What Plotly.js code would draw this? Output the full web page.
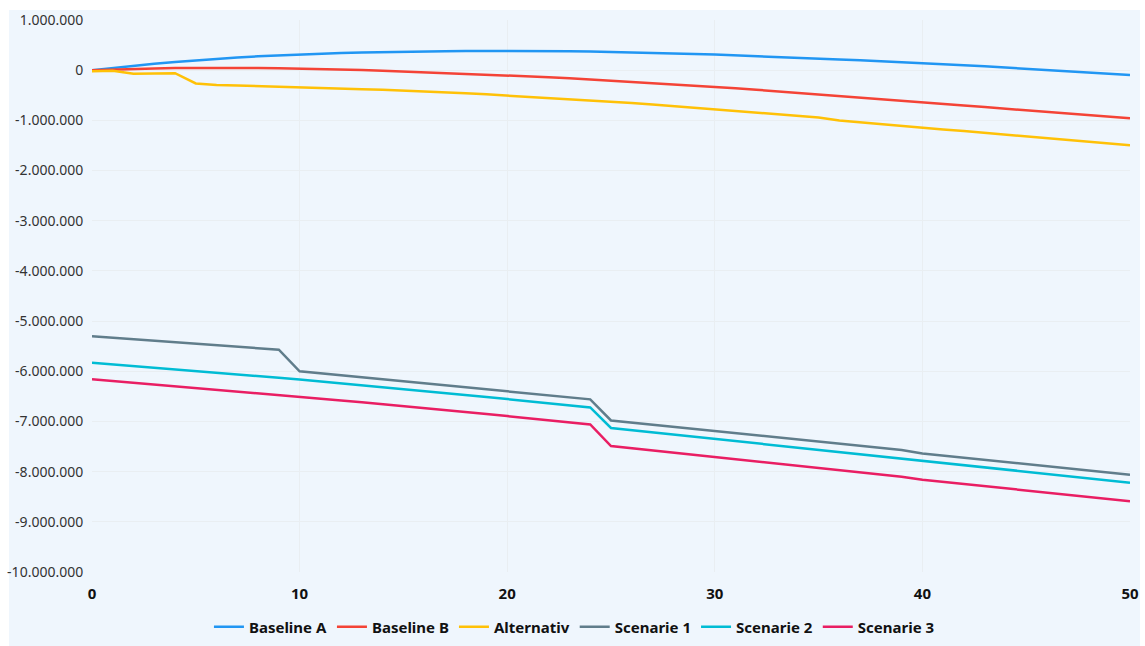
<!DOCTYPE html>
<html>
<head>
<meta charset="utf-8">
<script src="https://cdn.plot.ly/plotly-3.0.1.min.js"></script>
<style>
  html, body { margin: 0; padding: 0; background: #ffffff; }
  #panel { position: absolute; left: 9px; top: 10px; width: 1131px; height: 636px; background: #eff6fd; }
  #chart { position: absolute; left: 0; top: 0; width: 1145px; height: 646px; }
</style>
</head>
<body>
<div id="panel"></div>
<div id="chart"></div>
<script>
const years = Array.from({length: 51}, (_, i) => i);

const seriesNames = ["Baseline A", "Baseline B", "Alternativ", "Scenarie 1", "Scenarie 2", "Scenarie 3"];

const baselineA = [0, 45000, 88000, 128000, 165000, 198000, 228000, 254000, 277000, 297000,
  314000, 329000, 342000, 353000, 362000, 369000, 375000, 379000, 382000, 384000,
  385000, 384000, 382000, 378000, 373000, 366000, 357000, 347000, 336000, 324000,
  311000, 297000, 282000, 266000, 249000, 231000, 214000, 196000, 178000, 160000,
  142000, 120000, 98000, 76000, 53000, 30000, 6000, -18000, -43000, -70000, -97000];

const baselineB = [0, 15000, 27000, 36000, 42000, 45000, 46000, 45000, 42000, 38000,
  33000, 26000, 17000, 5000, -10000, -25000, -40000, -55000, -70000, -84000,
  -95000, -117000, -140000, -163000, -186000, -210000, -235000, -259000, -283000, -306000,
  -330000, -360000, -390000, -420000, -451000, -482000, -513000, -544000, -576000, -608000,
  -640000, -672000, -704000, -736000, -768000, -800000, -832000, -864000, -896000, -928000, -960000];

const alternativ = [-20000, -10000, -70000, -65000, -60000, -265000, -295000, -305000, -315000, -330000,
  -345000, -355000, -366000, -378000, -391000, -406000, -423000, -441000, -461000, -482000,
  -505000, -529000, -553000, -578000, -603000, -629000, -656000, -685000, -716000, -749000,
  -783000, -815000, -847000, -879000, -911000, -943000, -1005000, -1037000, -1069000, -1101000,
  -1140000, -1180000, -1214000, -1248000, -1282000, -1316000, -1350000, -1386000, -1422000, -1458000, -1495000];

const scenarie1 = [-5300000, -5330000, -5360000, -5390000, -5420000, -5450000, -5480000, -5510000, -5540000, -5570000,
  -6000000, -6040000, -6080000, -6120000, -6160000, -6200000, -6240000, -6280000, -6320000, -6360000,
  -6400000, -6440000, -6480000, -6520000, -6560000, -6980000, -7022000, -7064000, -7106000, -7148000,
  -7190000, -7232000, -7274000, -7316000, -7358000, -7400000, -7442000, -7484000, -7526000, -7568000,
  -7640000, -7682000, -7724000, -7766000, -7808000, -7850000, -7892000, -7934000, -7976000, -8018000, -8060000];

const scenarie2 = [-5830000, -5862000, -5894000, -5926000, -5958000, -5990000, -6022000, -6055000, -6092000, -6129000,
  -6166000, -6203000, -6240000, -6277000, -6314000, -6351000, -6390000, -6431000, -6472000, -6513000,
  -6554000, -6595000, -6636000, -6677000, -6720000, -7130000, -7174000, -7218000, -7262000, -7306000,
  -7350000, -7394000, -7438000, -7482000, -7526000, -7570000, -7614000, -7658000, -7702000, -7740000,
  -7790000, -7833000, -7876000, -7919000, -7962000, -8005000, -8048000, -8091000, -8134000, -8177000, -8220000];

const scenarie3 = [-6160000, -6194000, -6228000, -6262000, -6296000, -6330000, -6364000, -6398000, -6434000, -6471000,
  -6508000, -6545000, -6582000, -6619000, -6656000, -6693000, -6730000, -6770000, -6811000, -6852000,
  -6893000, -6934000, -6975000, -7016000, -7060000, -7490000, -7534000, -7578000, -7622000, -7666000,
  -7710000, -7754000, -7798000, -7842000, -7886000, -7930000, -7974000, -8018000, -8062000, -8100000,
  -8160000, -8203000, -8246000, -8289000, -8332000, -8375000, -8418000, -8461000, -8504000, -8547000, -8590000];

const yTickVals = [1000000, 0, -1000000, -2000000, -3000000, -4000000, -5000000, -6000000, -7000000, -8000000, -9000000, -10000000];
const yTickText = ["1.000.000", "0", "-1.000.000", "-2.000.000", "-3.000.000", "-4.000.000", "-5.000.000", "-6.000.000", "-7.000.000", "-8.000.000", "-9.000.000", "-10.000.000"];
const xTickVals = [0, 10, 20, 30, 40, 50];
const xTickText = ["<b>0</b>", "<b>10</b>", "<b>20</b>", "<b>30</b>", "<b>40</b>", "<b>50</b>"];

const colors = ["#2196F3", "#F44336", "#FFC107", "#607D8B", "#00BCD4", "#E91E63"];
const allSeries = [baselineA, baselineB, alternativ, scenarie1, scenarie2, scenarie3];

const traces = allSeries.map((vals, i) => ({
  x: years,
  y: vals,
  type: "scatter",
  mode: "lines",
  name: "<b>" + seriesNames[i] + "</b>",
  line: { color: colors[i], width: 2.5 },
  hoverinfo: "x+y+name"
}));

const layout = {
  width: 1145,
  height: 646,
  margin: { l: 92, r: 15, t: 20, b: 74 },
  paper_bgcolor: "rgba(0,0,0,0)",
  plot_bgcolor: "#eff6fd",
  font: { family: "'Noto Sans', 'Open Sans', sans-serif", color: "#222" },
  showlegend: true,
  legend: {
    orientation: "h",
    xref: "container",
    yref: "container",
    x: 0.5017,
    xanchor: "center",
    y: 0.0294,
    yanchor: "middle",
    font: { size: 15, color: "#111" },
    itemwidth: 30,
    bgcolor: "rgba(0,0,0,0)"
  },
  xaxis: {
    range: [0, 50],
    tickvals: xTickVals,
    ticktext: xTickText,
    tickfont: { size: 15, color: "#111" },
    showgrid: true,
    gridcolor: "#e9eef2",
    gridwidth: 1,
    zeroline: false,
    showline: false,
    ticks: "outside",
    ticklen: 8,
    tickcolor: "rgba(0,0,0,0)"
  },
  yaxis: {
    range: [-10000000, 1000000],
    tickvals: yTickVals,
    ticktext: yTickText,
    tickfont: { size: 14, color: "#333" },
    showgrid: true,
    gridcolor: "#e9eef2",
    gridwidth: 1,
    zeroline: false,
    showline: false,
    ticks: "outside",
    ticklen: 5,
    tickcolor: "rgba(0,0,0,0)"
  }
};

Plotly.newPlot("chart", traces, layout, { displayModeBar: false, staticPlot: true });
</script>
</body>
</html>
